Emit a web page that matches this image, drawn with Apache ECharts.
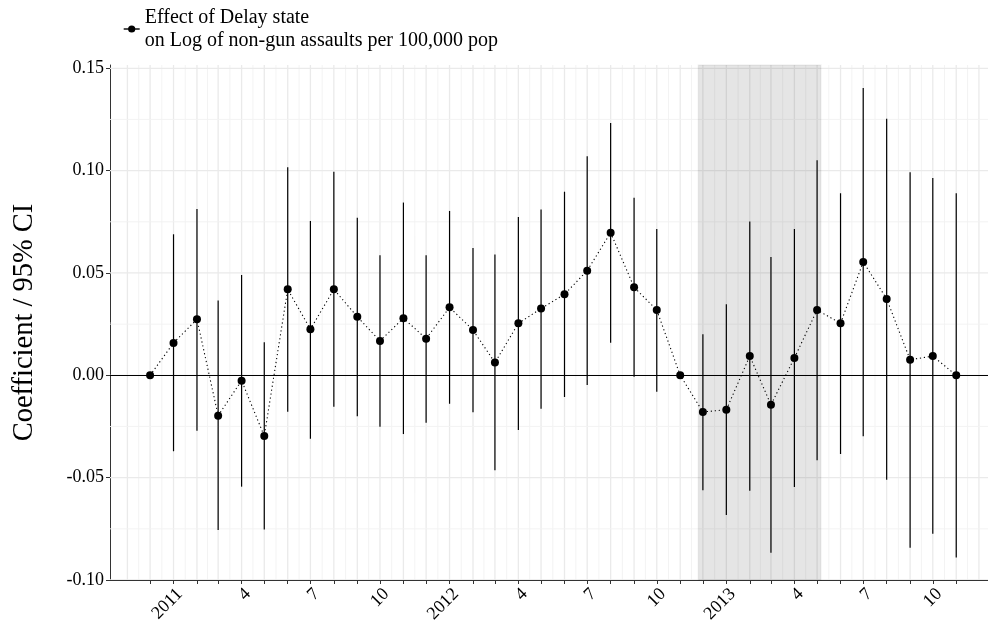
<!DOCTYPE html>
<html>
<head>
<meta charset="utf-8">
<script src="https://cdn.jsdelivr.net/npm/echarts@6/dist/echarts.min.js"></script>
<style>
  html, body { margin: 0; padding: 0; background: #ffffff; }
  #chart { width: 988px; height: 622px; }
</style>
</head>
<body>
<div id="chart"></div>
<script>
// Monthly event-study estimates (first of each month)
const months = [
  '2010-12',
  '2011-01','2011-02','2011-03','2011-04','2011-05','2011-06',
  '2011-07','2011-08','2011-09','2011-10','2011-11','2011-12',
  '2012-01','2012-02','2012-03','2012-04','2012-05','2012-06',
  '2012-07','2012-08','2012-09','2012-10','2012-11','2012-12',
  '2013-01','2013-02','2013-03','2013-04','2013-05','2013-06',
  '2013-07','2013-08','2013-09','2013-10','2013-11'
];
const coef = [
  0,
  0.0158, 0.0274, -0.0197, -0.0026, -0.0297, 0.0420,
  0.0225, 0.0420, 0.0286, 0.0168, 0.0279, 0.0179,
  0.0332, 0.0221, 0.0062, 0.0254, 0.0326, 0.0396,
  0.0511, 0.0697, 0.0430, 0.0319, 0, -0.0179,
  -0.0168, 0.0094, -0.0144, 0.0085, 0.0319, 0.0254,
  0.0554, 0.0373, 0.0076, 0.0094, 0
];
const ciLow = [
  null,
  -0.0371, -0.0271, -0.0756, -0.0544, -0.0753, -0.0178,
  -0.0310, -0.0153, -0.0200, -0.0251, -0.0287, -0.0232,
  -0.0139, -0.0181, -0.0464, -0.0267, -0.0163, -0.0106,
  -0.0047, 0.0159, -0.0007, -0.0080, null, -0.0561,
  -0.0683, -0.0564, -0.0867, -0.0546, -0.0415, -0.0385,
  -0.0298, -0.0510, -0.0843, -0.0774, -0.0890
];
const ciHigh = [
  null,
  0.0689, 0.0813, 0.0365, 0.0490, 0.0161, 0.1017,
  0.0754, 0.0994, 0.0770, 0.0587, 0.0844, 0.0587,
  0.0803, 0.0622, 0.0590, 0.0774, 0.0810, 0.0897,
  0.1070, 0.1233, 0.0867, 0.0715, null, 0.0200,
  0.0347, 0.0751, 0.0578, 0.0715, 0.1051, 0.0890,
  0.1404, 0.1253, 0.0992, 0.0964, 0.0890
];
// Axis breaks
const yTicks = [-0.10, -0.05, 0.00, 0.05, 0.10, 0.15];
const yMinorTicks = [-0.075, -0.025, 0.025, 0.075, 0.125];
const gridMonthStart = '2010-11';
const gridMonthEnd = '2013-12';
const labelMonths = [
  '2011-01','2011-04','2011-07','2011-10',
  '2012-01','2012-04','2012-07','2012-10',
  '2013-01','2013-04','2013-07','2013-10'
];
// Highlighted period
const shadeRange = ['2012-11-25', '2013-05-06'];
const xRange = ['2010-10-09', '2013-12-13'];
const yRange = [-0.10, 0.1516];

const seriesName = 'Effect of Delay state\non Log of non-gun assaults per 100,000 pop';
const FONT = "'Liberation Serif', 'DejaVu Serif', serif";
const DAY = 86400000;

// dates are placed on the x axis as whole days since 1970-01-01 (UTC)
function toDay(s) {
  const p = s.split('-').map(Number);
  return Date.UTC(p[0], p[1] - 1, p[2] || 1) / DAY;
}

// month starts for major vertical grid, midpoints for minor grid
const majorX = [];
{
  let [y, m] = gridMonthStart.split('-').map(Number);
  const [ye, me] = gridMonthEnd.split('-').map(Number);
  while (y < ye || (y === ye && m <= me)) {
    majorX.push(Date.UTC(y, m - 1, 1) / DAY);
    m++; if (m > 12) { m = 1; y++; }
  }
}
const minorX = [];
for (let i = 0; i < majorX.length - 1; i++) minorX.push((majorX[i] + majorX[i + 1]) / 2);

const monthDays = months.map(toDay);
const pointData = months.map((m, i) => [monthDays[i], coef[i]]);
const barData = [];
months.forEach((m, i) => {
  if (ciLow[i] !== null && ciHigh[i] !== null) barData.push([monthDays[i], ciLow[i], ciHigh[i]]);
});

const xMin = toDay(xRange[0]);
const xMax = toDay(xRange[1]);

const vGridData = majorX.map(t => [t, 0, 1]).concat(minorX.map(t => [t, 0, 0]));
const hGridData = yTicks.map(v => [xMin, v, 1]).concat(yMinorTicks.map(v => [xMin, v, 0]));

const chart = echarts.init(document.getElementById('chart'), null, { renderer: 'canvas' });

chart.setOption({
  animation: false,
  backgroundColor: '#ffffff',
  grid: { left: 110, right: 0, top: 65, bottom: 42, containLabel: false, outerBoundsMode: 'none' },
  legend: {
    data: [seriesName],
    left: 123,
    top: 6,
    padding: 0,
    itemWidth: 16,
    itemHeight: 9,
    itemGap: 5,
    lineStyle: { type: 'solid', width: 1.4, color: '#000' },
    textStyle: { fontFamily: FONT, fontSize: 20, color: '#000', lineHeight: 23 }
  },
  xAxis: {
    type: 'value',
    min: xMin,
    max: xMax,
    axisLine: { show: true, onZero: false, lineStyle: { color: '#333333', width: 1 } },
    axisTick: {
      show: true, length: 4, inside: false,
      customValues: monthDays,
      lineStyle: { color: '#333333', width: 1 }
    },
    axisLabel: {
      show: true,
      customValues: labelMonths.map(toDay),
      rotate: 45,
      margin: 5,
      verticalAlign: 'top',
      fontFamily: FONT,
      fontSize: 18,
      color: '#000',
      formatter: function (v) {
        const d = new Date(Math.round(v) * DAY);
        const mo = d.getUTCMonth();
        return mo === 0 ? String(d.getUTCFullYear()) : String(mo + 1);
      }
    },
    splitLine: { show: false },
    minorSplitLine: { show: false }
  },
  yAxis: {
    type: 'value',
    min: yRange[0],
    max: yRange[1],
    name: 'Coefficient / 95% CI',
    nameLocation: 'middle',
    nameGap: 71,
    nameTextStyle: { fontFamily: FONT, fontSize: 28.5, color: '#000' },
    axisLine: { show: true, lineStyle: { color: '#333333', width: 1 } },
    axisTick: {
      show: true, length: 4, inside: false,
      customValues: yTicks,
      lineStyle: { color: '#333333', width: 1 }
    },
    axisLabel: {
      show: true,
      customValues: yTicks,
      margin: 6,
      fontFamily: FONT,
      fontSize: 18,
      color: '#000',
      formatter: v => v.toFixed(2)
    },
    splitLine: { show: false }
  },
  series: [
    {
      // vertical grid lines
      type: 'custom',
      silent: true,
      z: 1,
      clip: true,
      data: vGridData,
      renderItem: function (params, api) {
        const cs = params.coordSys;
        const x = api.coord([api.value(0), 0])[0];
        const major = api.value(2) === 1;
        return {
          type: 'line',
          shape: { x1: x, y1: cs.y, x2: x, y2: cs.y + cs.height },
          style: { stroke: major ? '#EAEAEA' : '#F2F2F2', lineWidth: major ? 1.3 : 0.9 }
        };
      }
    },
    {
      // horizontal grid lines
      type: 'custom',
      silent: true,
      z: 1,
      clip: true,
      data: hGridData,
      renderItem: function (params, api) {
        const cs = params.coordSys;
        const y = api.coord([xMin, api.value(1)])[1];
        const major = api.value(2) === 1;
        return {
          type: 'line',
          shape: { x1: cs.x, y1: y, x2: cs.x + cs.width, y2: y },
          style: { stroke: major ? '#EAEAEA' : '#F2F2F2', lineWidth: major ? 1.3 : 0.9 }
        };
      }
    },
    {
      // shaded period
      type: 'custom',
      silent: true,
      z: 2,
      data: [[toDay(shadeRange[0]), toDay(shadeRange[1])]],
      renderItem: function (params, api) {
        const cs = params.coordSys;
        const x0 = api.coord([api.value(0), 0])[0];
        const x1 = api.coord([api.value(1), 0])[0];
        return {
          type: 'rect',
          shape: { x: x0, y: cs.y, width: x1 - x0, height: cs.height },
          style: { fill: 'rgba(0,0,0,0.10)', stroke: 'rgba(0,0,0,0.05)', lineWidth: 1.5 }
        };
      }
    },
    {
      // 95% confidence intervals
      type: 'custom',
      silent: true,
      z: 3,
      data: barData,
      renderItem: function (params, api) {
        const t = api.value(0);
        const p0 = api.coord([t, api.value(1)]);
        const p1 = api.coord([t, api.value(2)]);
        return {
          type: 'line',
          shape: { x1: p0[0], y1: p0[1], x2: p1[0], y2: p1[1] },
          style: { stroke: '#000000', lineWidth: 1.2 }
        };
      }
    },
    {
      name: seriesName,
      type: 'line',
      z: 4,
      data: pointData,
      symbol: 'circle',
      symbolSize: 8,
      showSymbol: true,
      itemStyle: { color: '#000000' },
      lineStyle: { color: '#000000', width: 1.1, type: [1.2, 2.8] },
      markLine: {
        silent: true,
        symbol: ['none', 'none'],
        label: { show: false },
        lineStyle: { color: '#000000', width: 1, type: 'solid' },
        data: [{ yAxis: 0 }]
      }
    }
  ]
});
</script>
</body>
</html>
